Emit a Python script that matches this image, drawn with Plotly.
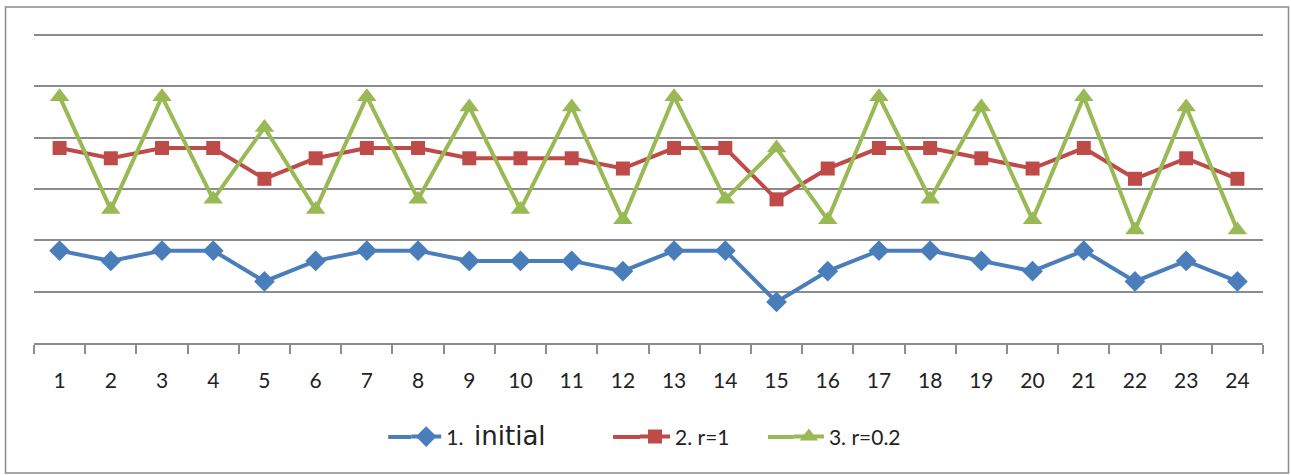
import plotly.graph_objects as go

categories = [str(i) for i in range(1, 25)]
initial = [1.8, 1.6, 1.8, 1.8, 1.2, 1.6, 1.8, 1.8, 1.6, 1.6, 1.6, 1.4,
           1.8, 1.8, 0.8, 1.4, 1.8, 1.8, 1.6, 1.4, 1.8, 1.2, 1.6, 1.2]
r1 = [3.8, 3.6, 3.8, 3.8, 3.2, 3.6, 3.8, 3.8, 3.6, 3.6, 3.6, 3.4,
      3.8, 3.8, 2.8, 3.4, 3.8, 3.8, 3.6, 3.4, 3.8, 3.2, 3.6, 3.2]
r02 = [4.8, 2.6, 4.8, 2.8, 4.2, 2.6, 4.8, 2.8, 4.6, 2.6, 4.6, 2.4,
       4.8, 2.8, 3.8, 2.4, 4.8, 2.8, 4.6, 2.4, 4.8, 2.2, 4.6, 2.2]
series_names = ["1.&nbsp;&nbsp;<span style='font-family:DejaVu Sans;font-size:26px'>initial</span>",
                "2. r=1", "3. r=0.2"]
colors = ["#4A7EBB", "#BE4B48", "#98B954"]

fig = go.Figure()
fig.add_trace(go.Scatter(x=categories, y=initial, name=series_names[0], mode="lines+markers",
                         legend="legend",
                         line=dict(color=colors[0], width=4),
                         marker=dict(symbol="diamond", size=16, color=colors[0])))
fig.add_trace(go.Scatter(x=categories, y=r1, name=series_names[1], mode="lines+markers",
                         legend="legend2",
                         line=dict(color=colors[1], width=4),
                         marker=dict(symbol="square", size=14, color=colors[1])))
fig.add_trace(go.Scatter(x=categories, y=r02, name=series_names[2], mode="lines+markers",
                         legend="legend3",
                         line=dict(color=colors[2], width=4),
                         marker=dict(symbol="triangle-up", size=17, color=colors[2])))

l, r, t, b = 33.5, 27.5, 29.9, 132
W, H = 1291, 475
pw, ph = W - l - r, H - t - b

def px(xp):
    return (xp - l) / pw

def py(yp):
    return (H - b - yp) / ph

leg_font = dict(family="Lato, sans-serif", size=21, color="#222")
def leg(xleft):
    return dict(orientation="h", x=px(xleft), xanchor="left", y=py(437), yanchor="middle",
                font=leg_font, bgcolor="rgba(0,0,0,0)", borderwidth=0)

# item starts (symbol+text block) for each legend entry
leg_starts = [406, 635, 789]
ext = [(388, 411), (613, 640), (768, 794)]

shapes = [dict(type="rect", xref="paper", yref="paper",
               x0=px(5), x1=px(1289), y0=py(473), y1=py(7),
               line=dict(color="#8c8c8c", width=1.5), fillcolor="rgba(0,0,0,0)", layer="below")]
for (a, c), col in zip(ext, colors):
    shapes.append(dict(type="line", xref="paper", yref="paper", x0=px(a), x1=px(c),
                       y0=py(437), y1=py(437), line=dict(color=col, width=4), layer="above"))

fig.update_layout(
    width=W, height=H,
    margin=dict(l=l, r=r, t=t, b=b),
    paper_bgcolor="white", plot_bgcolor="white",
    font=dict(family="Lato, 'Open Sans', sans-serif", size=21, color="#222"),
    showlegend=True,
    legend=leg(leg_starts[0]),
    legend2=leg(leg_starts[1]),
    legend3=leg(leg_starts[2]),
    xaxis=dict(type="category", range=[-0.5, 23.5], showgrid=False, showline=True,
               linecolor="#8c8c8c", linewidth=1.5,
               ticks="outside", tickson="boundaries", ticklen=9, tickcolor="#8c8c8c", tickwidth=1.5,
               ticklabelstandoff=18, tickfont=dict(size=21, color="#222"), zeroline=False),
    yaxis=dict(range=[0, 6.1], tickvals=[1, 2, 3, 4, 5, 6], showticklabels=False, showgrid=True,
               gridcolor="#8c8c8c", gridwidth=1.5, zeroline=False, showline=False),
    shapes=shapes,
)

fig.write_html("out.html")
